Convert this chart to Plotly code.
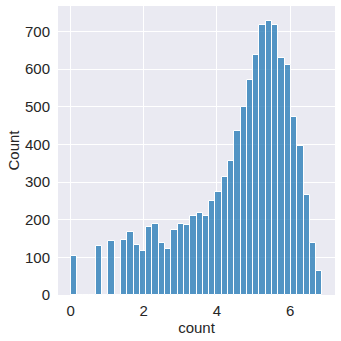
import numpy as np
import plotly.graph_objects as go

# 40 equal-width bins spanning [0, log(977)]
bin_min = 0.0
bin_max = 6.884
n_bins = 40
counts = [104, 0, 0, 0, 130, 0, 143, 0, 146, 167,
          132, 117, 180, 188, 138, 122, 172, 188, 185, 211,
          219, 209, 251, 275, 314, 356, 435, 500, 572, 637,
          717, 728, 717, 631, 610, 474, 396, 266, 138, 64]
x_ticks = [0, 2, 4, 6]
y_ticks = [0, 100, 200, 300, 400, 500, 600, 700]

edges = np.linspace(bin_min, bin_max, n_bins + 1)
centers = (edges[:-1] + edges[1:]) / 2
width = edges[1] - edges[0]

fig = go.Figure(go.Bar(
    x=centers, y=counts, width=width,
    marker=dict(color="rgba(31,119,180,0.75)", line=dict(color="white", width=1)),
))
font = dict(family="Liberation Sans, Arial, sans-serif", color="#262626")
fig.update_layout(
    width=341, height=341,
    margin=dict(l=58, r=6, t=6, b=46),
    paper_bgcolor="white", plot_bgcolor="#EAEAF2",
    showlegend=False, bargap=0,
    font=dict(size=15, **font),
)
fig.update_xaxes(range=[-0.344, 7.228], tickvals=x_ticks, showgrid=True,
                 gridcolor="white", gridwidth=1, zeroline=False, showline=False,
                 ticks="", ticklabelstandoff=5,
                 title=dict(text="count", font=dict(size=15), standoff=4),
                 tickfont=dict(size=15))
fig.update_yaxes(range=[0, 768], tickvals=y_ticks, showgrid=True,
                 gridcolor="white", gridwidth=1, zeroline=False, showline=False,
                 ticks="", ticklabelstandoff=7,
                 title=dict(text="Count", font=dict(size=15), standoff=1),
                 tickfont=dict(size=15))
fig.write_html("out.html")
